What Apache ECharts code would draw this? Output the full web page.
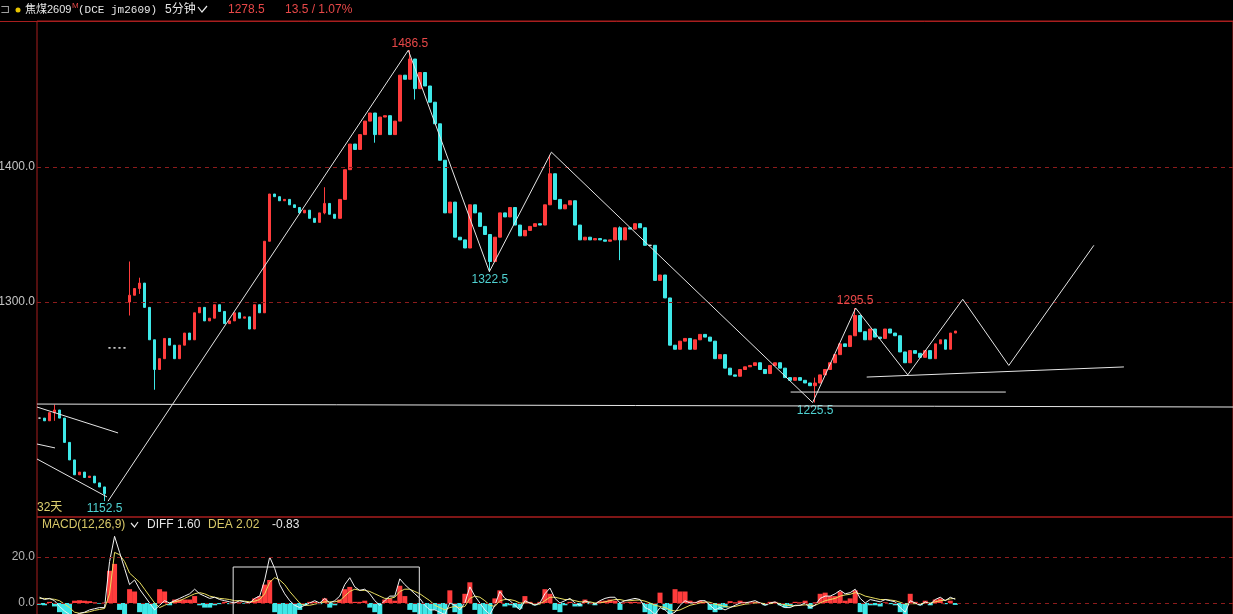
<!DOCTYPE html>
<html>
<head>
<meta charset="utf-8">
<script src="https://cdn.jsdelivr.net/npm/echarts@6/dist/echarts.min.js"></script>
<style>
  html, body { margin: 0; padding: 0; background: #000; }
  #main { width: 1233px; height: 614px; }
</style>
</head>
<body>
<div id="main"></div>
<script>
// 收盘价，每格约合并几根5分钟K线
var closes = [
  1214, 1212, 1218, 1220, 1214, 1196, 1183, 1172, 1174, 1170,
  1171, 1166, 1163, 1158, 1266, 1266, 1266, 1266, 1305, 1310,
  1314, 1296, 1272, 1250, 1258, 1273, 1268, 1258, 1268, 1277,
  1272, 1292, 1296, 1286, 1288, 1298, 1293, 1284, 1286, 1292,
  1288, 1289, 1280, 1298, 1292, 1345, 1380, 1378, 1375, 1376,
  1372, 1370, 1366, 1368, 1362, 1359, 1366, 1373, 1365, 1362,
  1376, 1398, 1417, 1413, 1424, 1434, 1440, 1424, 1437, 1438,
  1424, 1434, 1468, 1465, 1480, 1458, 1470, 1460, 1448, 1432,
  1405, 1366, 1374, 1348, 1346, 1340, 1372, 1366, 1356, 1350,
  1330, 1348, 1366, 1363, 1370, 1357, 1349, 1353, 1356, 1358,
  1357, 1372, 1395, 1376, 1369, 1372, 1375, 1357, 1346, 1348,
  1346, 1347, 1346, 1345, 1346, 1355, 1346, 1355, 1354, 1358,
  1355, 1342, 1342, 1316, 1320, 1303, 1268, 1265, 1271, 1273,
  1265, 1272, 1276, 1274, 1271, 1258, 1261, 1251, 1246, 1245,
  1250, 1252, 1253, 1255, 1250, 1247, 1253, 1255, 1251, 1244,
  1242, 1244, 1242, 1240, 1238, 1240, 1246, 1250, 1255, 1261,
  1269, 1267, 1275, 1290, 1278, 1272, 1280, 1274, 1273, 1280,
  1277, 1275, 1263, 1255, 1264, 1262, 1259, 1264, 1258, 1269,
  1272, 1265, 1277, 1278.5
]
// 跳空开盘 [index, open]
var gapOpens = [[14, 1266], [18, 1300]]
// 影线 [index, low, high]
var wicks = [
  [3, 1212, 1224], [13, 1152.5, 1160], [18, 1290, 1330], [20, 1306, 1318],
  [23, 1235, 1262], [57, 1365, 1385], [67, 1418, 1440], [74, 1465, 1486.5],
  [75, 1450, 1470], [90, 1322.5, 1346], [102, 1376, 1409], [116, 1331, 1356],
  [155, 1225.5, 1244], [163, 1275, 1295.5]
]
// 高低点标注 [index, price, type]
var pivots = [
  [13, 1152.5, 'low'], [74, 1486.5, 'high'], [90, 1322.5, 'low'],
  [155, 1225.5, 'low'], [163, 1295.5, 'high']
]
var priceTicks = [1300, 1400]
var macdTicks = [0, 20]

var diff = [
  2.5, 1.5, 2, 1, -1.5, -3.5, -5, -5.5, -4.5, -4,
  -3, -2.5, -2, -2, 18, 29, 22, 15, 8, 10,
  6, 3, 0, -3, -1, 1, 0, 1, 2, 3,
  4, 6, 4, 3, 2, 2.5, 1.5, 1, 0.5, 0,
  1, 0.5, 0, 2, 3, 10, 20, 15, 8, 4,
  1, -1, -2, -1, 0, 1, 0, 2, 0, 1,
  3, 8, 11, 7, 5.5, 6, 4, 1, -1, 1,
  3, 3, 10.5, 8, 6, 4, 2, -1, -3, -3,
  -4, -5, 0, -1, -3, 0, 7, 3, 0, -3,
  -5, -1, 5, 2, 1, -1, -3, 1, 0, -1,
  0, 4, 6.5, 2, 0, 1, 2, 0, -1, 1,
  0, -0.5, 1, 2, 2.5, 2.5, 0, 1, 1.5, 2,
  1.5, -2, -3, -5, -2, -3, -5, -4, -1, 1,
  0, 0, 1, 1, -1, -3, -2, -3, -2, -1,
  0, 0, 0.5, 1, 0, -1, 0, 0.5, -1, -2,
  -2, -1, -1, 0, -2, -1, 2, 3, 3, 4,
  5.5, 4, 4.5, 6, 2, 0, 1.5, 1, 0.5, 1.5,
  1, 0.5, -2, -4, 1, 0, -1, 0.5, -0.5, 1.5,
  2.5, 1, 2.5, 1.6
]
var dea = [
  2, 2, 1.8, 1.6, 1, -0.5, -2, -4, -4.5, -4.2,
  -3.8, -3.2, -2.8, -2.4, 4, 22, 21, 18, 13, 11,
  9, 6, 3, 0, -2, -1, 0, 0.5, 1, 2,
  3, 4, 4.5, 4, 3, 2.5, 2, 1.8, 1.5, 1,
  1, 0.8, 0.5, 0.8, 1.5, 4, 9, 11, 10, 8,
  5, 2.5, 0, -1, -1, -0.5, 0, 0.5, 0.5, 0.5,
  1, 3, 5, 6, 5.5, 5.5, 5, 4, 3, 2,
  2, 2.5, 5, 6, 6, 5, 4, 2.5, 1, -1,
  -2, -3, -2, -1.5, -2, -1.5, 2, 3, 2.5, 1,
  -1, -1.5, 1, 1.5, 1.5, 1, 0, 0, 0, -0.5,
  -0.5, 1, 2.5, 2.5, 2, 1.5, 1.5, 1, 0.5, 0.5,
  0.5, 0, 0, 0.5, 1, 1.5, 1.5, 1, 1, 1.2,
  1.3, 0.8, 0, -1, -1.5, -2, -3, -3.5, -3, -2,
  -1, -0.5, 0, 0.5, 0.3, -0.5, -1, -1.5, -1.8, -1.5,
  -1, -0.5, -0.3, 0, 0, -0.3, -0.3, 0, -0.2, -0.8,
  -1.2, -1.2, -1, -0.8, -1, -1, 0, 1, 1.5, 2,
  3, 3.5, 3.8, 4.5, 4, 3, 2.5, 2, 1.5, 1.5,
  1.3, 1, 0.3, -0.5, -0.3, -0.3, -0.3, 0, 0, 0.5,
  1, 1.2, 1.8, 2.02
]
var macd = [
  -0.8, -1, 0.5, -1.5, -4, -6, -6, 1, 1.2, 1,
  0.8, 0.3, -0.3, 0.2, 14, 17, -3, -6, 6, 5,
  -4, -6, -7, -7, 6, 5, -1, 1.5, 1.5, 1.5,
  1.5, 3, -1, -2, -2, -1, -0.5, 0.5, -0.5, 0.5,
  0.3, -0.3, 0.5, 2, 3, 8, 10, -4, -6, -7,
  -7, -6, -3, -1, 0.5, 0.5, -0.5, 2, -2, -1,
  1.5, 6, 7, 0.5, 0.5, 1, -2, -4, -5, 1.5,
  2, 1, 7.5, 3, -3, -4, -5, -5, -5, -3,
  -6, -6, 5.5, -4, -5, 4, 9, -3, -5, -6,
  -6, 2, 5.5, -1.5, -1, -2, -2.5, 3, 0.5, -1,
  0.5, 6, 4, -3, -4, -1, 0.5, -1.5, -1.5, 1.5,
  -0.5, -1, 0.8, 1, 1.5, 1, -3, 0.3, 0.5, 0.5,
  0.3, -4, -5, -6, 4.5, -3, -5, 6, 5, 5,
  1, 0.5, 1, 0.5, -3, -4, -3, -2, 0.8, 0.3,
  1, 0.5, 0.3, 0.5, -0.3, -1, 0.5, 0.5, -1, -2,
  -1.5, 0.5, 0.3, 1, -2.5, 0.3, 4, 4.5, 3, 3,
  5, 1, 2, 5.5, -4, -5, -1, -1, -1.5, 0.3,
  -0.5, -1, -4, -5, 4, 0.5, -1, 1, -1, 1.5,
  2, -0.5, 1, -0.83
]

// 画线工具 [位置, 价格]
var drawings = [
  [[13.7, 1152.5], [73.7, 1486.5], [89.9, 1322.5], [102.3, 1411], [154.5, 1225.5],
   [163.1, 1295.5], [173.5, 1246], [184.5, 1302], [193.7, 1253], [210.7, 1342]],
  [[-0.5, 1224.4], [238.7, 1222.2]],
  [[150.1, 1233.3], [193.1, 1233.3]],
  [[165.3, 1244.4], [216.7, 1251.9]],
  [[-0.5, 1222.2], [15.7, 1203.0]],
  [[-0.5, 1194.8], [3.1, 1191.9]],
  [[-0.5, 1183.7], [13.5, 1155.6]]
]
var macdBox = [[38.7, -10], [38.7, 15.65], [75.9, 15.65], [75.9, -10]]

var slotCount = 239
var RED = '#ff3c3c'
var CYAN = '#3ee8e8'
var FRAME = '#a81e1e'
var DASH = '#8c1c1c'

var cats = []
for (var k = 0; k < slotCount; k++) cats.push(String(k))

var gapMap = {}
gapOpens.forEach(function(g) { gapMap[g[0]] = g[1] })
var wickMap = {}
wicks.forEach(function(w) { wickMap[w[0]] = w })

var kData = closes.map(function(c, i) {
  var o = gapMap[i] != null ? gapMap[i] : (i > 0 ? closes[i - 1] : c)
  var lo = Math.min(o, c)
  var hi = Math.max(o, c)
  if (wickMap[i]) {
    lo = Math.min(lo, wickMap[i][1])
    hi = Math.max(hi, wickMap[i][2])
  }
  return [o, c, lo, hi]
})

var pivotPoints = pivots.map(function(p) {
  var isHigh = p[2] === 'high'
  return {
    coord: [p[0], p[1]],
    value: p[1],
    label: {
      position: isHigh ? 'top' : 'bottom',
      distance: isHigh ? 1 : 2,
      color: isHigh ? '#e84848' : '#4fd2d2'
    }
  }
})

var font = '"Liberation Sans", "Noto Sans CJK SC", sans-serif'

var series = [{
  name: 'K',
  type: 'candlestick',
  xAxisIndex: 0,
  yAxisIndex: 0,
  data: kData,
  barWidth: 3,
  itemStyle: {
    color: RED,
    color0: CYAN,
    borderColor: RED,
    borderColor0: CYAN,
    borderColorDoji: '#e8e8e8',
    borderWidth: 1
  },
  markLine: {
    silent: true,
    symbol: 'none',
    label: { show: false },
    lineStyle: { color: DASH, type: [4, 4], width: 1 },
    data: priceTicks.map(function(v) { return { yAxis: v } })
  },
  markPoint: {
    symbol: 'circle',
    symbolSize: 0,
    label: {
      show: true,
      fontSize: 12,
      fontFamily: font,
      formatter: function(p) { return p.value.toFixed(1) }
    },
    data: pivotPoints
  }
}]

drawings.forEach(function(d) {
  series.push({
    type: 'line',
    xAxisIndex: 1,
    yAxisIndex: 0,
    data: d,
    symbol: 'none',
    silent: true,
    lineStyle: { color: '#e6e6e6', width: 1 },
    z: 5
  })
})

series.push({
  name: 'MACD',
  type: 'bar',
  xAxisIndex: 2,
  yAxisIndex: 1,
  data: macd,
  barWidth: 5,
  itemStyle: {
    color: function(p) { return p.value >= 0 ? RED : CYAN }
  },
  markLine: {
    silent: true,
    symbol: 'none',
    label: { show: false },
    lineStyle: { color: DASH, type: [4, 4], width: 1 },
    data: macdTicks.map(function(v) { return { yAxis: v } })
  }
})
series.push({
  name: 'DIFF',
  type: 'line',
  xAxisIndex: 2,
  yAxisIndex: 1,
  data: diff,
  symbol: 'none',
  lineStyle: { color: '#f2f2f2', width: 1 },
  z: 4
})
series.push({
  name: 'DEA',
  type: 'line',
  xAxisIndex: 2,
  yAxisIndex: 1,
  data: dea,
  symbol: 'none',
  lineStyle: { color: '#e8de60', width: 1 },
  z: 3
})
series.push({
  type: 'line',
  xAxisIndex: 3,
  yAxisIndex: 1,
  data: macdBox,
  symbol: 'none',
  silent: true,
  lineStyle: { color: '#e6e6e6', width: 1 },
  z: 5
})

var chart = echarts.init(document.getElementById('main'))
chart.setOption({
  backgroundColor: '#000',
  animation: false,
  grid: [
    { left: 37, top: 21, width: 1196, height: 496, show: true, borderColor: FRAME, borderWidth: 1,
      containLabel: false, outerBoundsMode: 'none' },
    { left: 37, top: 517, width: 1196, height: 100, show: true, borderColor: FRAME, borderWidth: 1,
      containLabel: false, outerBoundsMode: 'none' }
  ],
  xAxis: [
    { type: 'category', gridIndex: 0, data: cats, show: false },
    { type: 'value', gridIndex: 0, min: -0.5, max: slotCount - 0.5, show: false },
    { type: 'category', gridIndex: 1, data: cats, show: false },
    { type: 'value', gridIndex: 1, min: -0.5, max: slotCount - 0.5, show: false }
  ],
  yAxis: [{
    type: 'value',
    gridIndex: 0,
    min: 1140.74,
    max: 1508.15,
    axisLine: { show: false },
    axisTick: { show: false },
    splitLine: { show: false },
    axisLabel: {
      customValues: priceTicks,
      margin: 2,
      color: '#c4c4c4',
      fontSize: 12,
      fontFamily: font,
      formatter: function(v) { return v.toFixed(1) }
    }
  }, {
    type: 'value',
    gridIndex: 1,
    min: -6.09,
    max: 37.39,
    axisLine: { show: false },
    axisTick: { show: false },
    splitLine: { show: false },
    axisLabel: {
      customValues: macdTicks,
      margin: 2,
      color: '#b4b4b4',
      fontSize: 12,
      fontFamily: font,
      formatter: function(v) { return v.toFixed(1) }
    }
  }],
  graphic: [
    { type: 'line', shape: { x1: 0, y1: 21.5, x2: 1233, y2: 21.5 }, style: { stroke: FRAME, lineWidth: 1 } },
    { type: 'text', x: 0, y: 10, style: { text: '⊐', fill: '#a0a0a0', font: '12px "DejaVu Sans"', verticalAlign: 'middle' } },
    { type: 'circle', shape: { cx: 18, cy: 10, r: 2.5 }, style: { fill: '#e8c400' } },
    { type: 'text', x: 25, y: 10, style: { text: '焦煤2609', fill: '#e6e6e6', font: '11px "Liberation Sans", "Noto Sans CJK SC"', verticalAlign: 'middle' } },
    { type: 'text', x: 72, y: 6, style: { text: 'M', fill: '#e84848', font: '8px "Liberation Sans"', verticalAlign: 'middle' } },
    { type: 'text', x: 78, y: 10, style: { text: '(DCE jm2609)', fill: '#e6e6e6', font: '11px "Liberation Mono"', verticalAlign: 'middle' } },
    { type: 'text', x: 165, y: 10, style: { text: '5分钟', fill: '#e6e6e6', font: '12px "Liberation Sans", "Noto Sans CJK SC"', verticalAlign: 'middle' } },
    { type: 'polyline', shape: { points: [[198, 7], [202, 12], [207, 6]] }, style: { stroke: '#e6e6e6', lineWidth: 1.2, fill: null } },
    { type: 'text', x: 228, y: 10, style: { text: '1278.5', fill: '#e84848', font: '12px "Liberation Sans"', verticalAlign: 'middle' } },
    { type: 'text', x: 285, y: 10, style: { text: '13.5 / 1.07%', fill: '#e84848', font: '12px "Liberation Sans"', verticalAlign: 'middle' } },
    { type: 'text', x: 37, y: 508, style: { text: '32天', fill: '#ddd070', font: '12px "Liberation Sans", "Noto Sans CJK SC"', verticalAlign: 'middle' } },
    { type: 'text', x: 42, y: 525, style: { text: 'MACD(12,26,9)', fill: '#d8c868', font: '12px "Liberation Sans"', verticalAlign: 'middle' } },
    { type: 'polyline', shape: { points: [[131, 523], [134.5, 527], [138, 522]] }, style: { stroke: '#e6e6e6', lineWidth: 1.2, fill: null } },
    { type: 'text', x: 147, y: 525, style: { text: 'DIFF 1.60', fill: '#e6e6e6', font: '12px "Liberation Sans"', verticalAlign: 'middle' } },
    { type: 'text', x: 208, y: 525, style: { text: 'DEA 2.02', fill: '#d8c868', font: '12px "Liberation Sans"', verticalAlign: 'middle' } },
    { type: 'text', x: 272, y: 525, style: { text: '-0.83', fill: '#e6e6e6', font: '12px "Liberation Sans"', verticalAlign: 'middle' } }
  ],
  series: series
})
</script>
</body>
</html>
